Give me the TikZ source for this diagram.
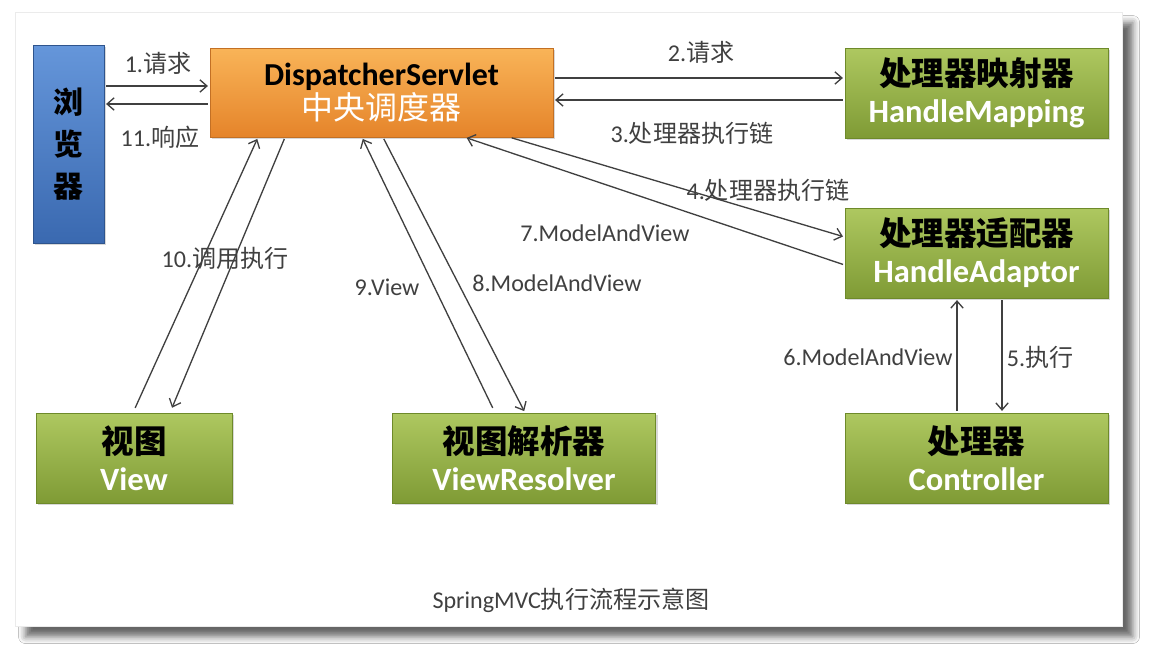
\documentclass[tikz,border=0pt]{standalone}
\usepackage{fontspec}
\setmainfont{Carlito}
\newfontfamily\cjk{Noto Sans CJK SC}
\usetikzlibrary{arrows.meta,shadows,shadows.blur}
\newcommand\zh[1]{{\cjk #1}}
\definecolor{gtop}{HTML}{AEC860}
\definecolor{gbot}{HTML}{7F9B35}
\definecolor{gline}{HTML}{6E8A2A}
\definecolor{otop}{HTML}{F9B458}
\definecolor{obot}{HTML}{E5842A}
\definecolor{btop}{HTML}{6596DA}
\definecolor{bbot}{HTML}{3A69B0}

\begin{document}
\begin{tikzpicture}[x=0.02cm,y={(0cm,-0.02cm)},
  unit/.style={rectangle,inner sep=0pt,align=center,
               drop shadow={shadow xshift=1.2pt,shadow yshift=-1.2pt,opacity=.3}},
  gbox/.style={unit,top color=gtop,bottom color=gbot,draw=gline,
               minimum width=5.26cm,minimum height=1.8cm,
               font=\fontsize{18.5}{21}\selectfont\bfseries},
  lbl/.style={text=black!75,inner sep=1pt,font=\fontsize{13.7}{16}\selectfont},
  flow/.style={draw=black!75,line width=.75pt,
               -{Straight Barb[length=4pt,width=7pt]},shorten <=1pt,shorten >=1pt}]
  \useasboundingbox (0,0) rectangle (1166,648);
  \fill[white] (0,0) rectangle (1166,648);
  % the slide
  \fill[white,draw=black!8,blur shadow={shadow xshift=6pt,shadow yshift=-6pt,
        shadow blur radius=4pt,shadow opacity=60}] (15,12) rectangle (1122,626);

  % components
  \node[unit,top color=btop,bottom color=bbot,draw=bbot!80!black,
        minimum width=1.42cm,minimum height=3.96cm,
        font=\fontsize{17}{24}\selectfont\bfseries\cjk] (br) at (68.5,144)
        {浏\\览\\器};
  \node[unit,top color=otop,bottom color=obot,draw=obot!85!black,
        minimum width=6.86cm,minimum height=1.78cm,
        font=\fontsize{18.2}{19}\selectfont] (ds) at (381.5,92.5)
        {\bfseries DispatcherServlet\\{\color{white}\cjk 中央调度器}};
  \node[gbox] (hm) at (976.5,93) {{\cjk 处理器映射器}\\{\color{white}HandleMapping}};
  \node[gbox] (ha) at (976.5,253) {{\cjk 处理器适配器}\\{\color{white}HandleAdaptor}};
  \node[gbox] (ct) at (976.5,458) {{\cjk 处理器}\\{\color{white}Controller}};
  \node[gbox,minimum width=3.92cm] (vw) at (134,458) {{\cjk 视图}\\{\color{white}View}};
  \node[gbox] (vr) at (524,458) {{\cjk 视图解析器}\\{\color{white}ViewResolver}};

  % request and response
  \draw[flow] (br.east |- 0,86) -- (ds.west |- 0,86);
  \draw[flow] (ds.west |- 0,104) -- (br.east |- 0,104);
  \draw[flow] (ds.east |- 0,78) -- (hm.west |- 0,78);
  \draw[flow] (hm.west |- 0,100) -- (ds.east |- 0,100);
  \draw[flow] (ds.south -| 510,0) -- (ha.west |- 0,237);
  \draw[flow] (ha.west |- 0,265) -- (ds.south -| 465,0);
  \draw[flow] (ha.south -| 1002,0) -- (ct.north -| 1002,0);
  \draw[flow] (ct.north -| 957,0) -- (ha.south -| 957,0);
  \draw[flow,shorten <=3pt] (vr.north -| 495,0) -- (ds.south -| 362,0);
  \draw[flow] (ds.south -| 383,0) -- (vr.north -| 525,0);
  \draw[flow,shorten <=3pt] (vw.north -| 133,0) -- (ds.south -| 258,0);
  \draw[flow,shorten >=3pt] (ds.south -| 285,0) -- (vw.north -| 170,0);

  \node[lbl] at (158,63) {1.\zh{请求}};
  \node[lbl] at (160,137) {11.\zh{响应}};
  \node[lbl] at (701,52) {2.\zh{请求}};
  \node[lbl] at (692,133) {3.\zh{处理器执行链}};
  \node[lbl] at (768,190) {4.\zh{处理器执行链}};
  \node[lbl] at (1040,357) {5.\zh{执行}};
  \node[lbl] at (868,357) {6.ModelAndView};
  \node[lbl] at (605,233) {7.ModelAndView};
  \node[lbl] at (557,283) {8.ModelAndView};
  \node[lbl] at (387,287) {9.View};
  \node[lbl] at (225,258) {10.\zh{调用执行}};
  \node[lbl] (cap) at (571,600) {SpringMVC\zh{执行流程示意图}};
\end{tikzpicture}
\end{document}
